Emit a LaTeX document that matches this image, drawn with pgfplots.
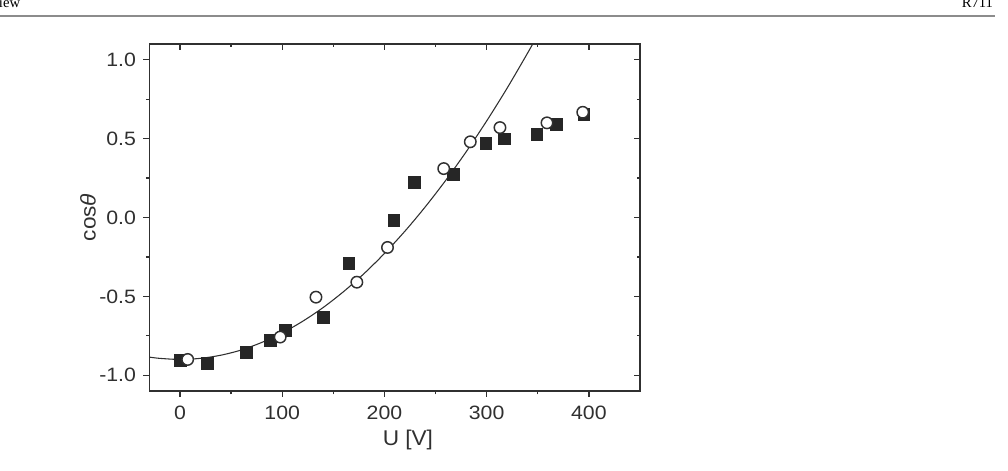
\documentclass[border=0pt]{standalone}
\usepackage{fontspec}
\setmainfont{Liberation Sans}
\newfontfamily\headfont{Liberation Serif}
\newfontfamily\tickfont[FakeStretch=1.1]{Liberation Sans}
\newfontfamily\labfont[FakeStretch=1.06]{Liberation Sans}
\usepackage{pgfplots}
\pgfplotsset{compat=1.18}
\definecolor{ink}{HTML}{303030}
\definecolor{fillsq}{HTML}{262626}

% contact angle vs. applied voltage
\pgfplotstableread{
U    c
0    -0.904
27   -0.923
65   -0.853
88   -0.777
103  -0.714
140  -0.632
165  -0.290
209  -0.017
229   0.224
267   0.274
299   0.470
317   0.500
349   0.530
368   0.590
395   0.654
}\squares
\pgfplotstableread{
U    c
7.5  -0.900
98   -0.758
133  -0.505
173  -0.410
203  -0.190
258   0.310
284   0.480
313   0.570
359   0.600
394   0.667
}\circles
% Lippmann fit, cos(theta) = -0.90 + 1.68e-5 U^2
\pgfplotstableread{
U    c
-30  -0.885
-20  -0.893
0    -0.900
20   -0.893
40   -0.873
60   -0.840
80   -0.792
100  -0.732
120  -0.658
140  -0.571
160  -0.470
180  -0.356
200  -0.228
220  -0.087
240   0.068
260   0.236
280   0.417
300   0.612
320   0.820
340   1.042
350   1.158
}\fit

\pgfplotsset{
  common/.style={
    anchor=south west, at={(0pt,0pt)},
    scale only axis, width=368pt, height=260.25pt,
    xmin=-30, xmax=450, ymin=-1.1, ymax=1.1,
    xtick={0,100,...,400}, minor x tick num=1,
    ytick={-1,-0.5,...,1}, minor y tick num=1,
    axis line style={ink, line width=1.1pt},
    major tick length=4.5pt, minor tick length=2.6pt,
    every tick/.style={ink, line width=1pt},
  }
}

\begin{document}
\begin{tikzpicture}[x=1pt,y=1pt]
% top and right ticks, pointing inwards
\begin{axis}[common, tick align=inside,
  xtick pos=right, ytick pos=right,
  xticklabels={}, yticklabels={}]
\end{axis}

\begin{axis}[common, tick align=outside,
  xtick pos=left, ytick pos=left,
  ticklabel style={ink, font=\tickfont\fontsize{14.5}{16}\selectfont},
  xticklabel style={yshift=-3pt},
  /pgf/number format/assume math mode=true,
  yticklabel style={xshift=-2pt, /pgf/number format/.cd, fixed, fixed zerofill, precision=1},
  xlabel={U [V]}, ylabel={cos\textit{θ}},
  label style={ink, font=\labfont\fontsize{16}{18}\selectfont},
  xlabel style={at={(axis description cs:0.527,-0.141)}, anchor=center},
  ylabel style={at={(axis description cs:-0.125,0.5)}, anchor=center},
]
\addplot[ink, line width=0.8pt, smooth] table[x=U, y=c] {\fit};
\addplot[only marks, mark=square*, mark size=4.4pt,
  mark options={fill=fillsq, draw=fillsq}] table[x=U, y=c] {\squares};
\addplot[only marks, mark=*, mark size=4.3pt,
  mark options={fill=white, draw=ink, line width=1.1pt}] table[x=U, y=c] {\circles};
\end{axis}

% running head of the page
\draw[black!45, line width=1.3pt] (-112,281.2) -- (634,281.2);
\node[anchor=base west, inner sep=0, font=\headfont\fontsize{11}{13}\selectfont] at (-113,287.5) {iew};
\node[anchor=base east, inner sep=0, font=\headfont\fontsize{11}{13}\selectfont] at (633,287.5) {R711};

\pgfresetboundingbox
\path[use as bounding box] (-112,-60) rectangle (644,293.25);
\end{tikzpicture}
\end{document}
